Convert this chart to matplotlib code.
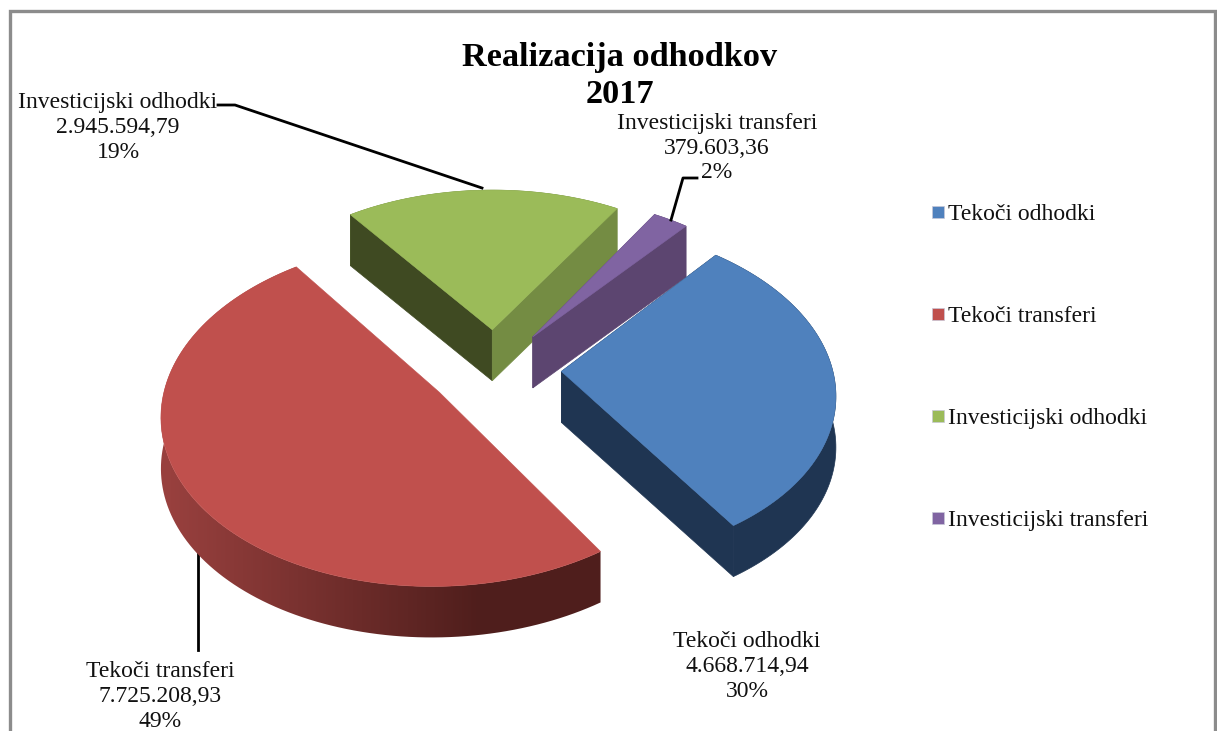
import numpy as np
import matplotlib
matplotlib.use('Agg')
import matplotlib.pyplot as plt

# Data
categories = ['Tekoči odhodki', 'Tekoči transferi', 'Investicijski odhodki', 'Investicijski transferi']
values = [4668714.94, 7725208.93, 2945594.79, 379603.36]
value_labels = ['4.668.714,94', '7.725.208,93', '2.945.594,79', '379.603,36']
title_lines = ['Realizacija odhodkov', '2017']

colors = ['#4F81BD', '#C0504D', '#9BBB59', '#8064A2']
wall_start = ['#1F3552', '#96403D', '#3F4A22', '#5C4570']  # wall of first edge
wall_end = ['#1F3552', '#96403D', '#748C43', '#5C4570']  # wall of last edge

# Projection of the pie plane to pixels
CX, CY = 495, 369
A, B = 271, 165
P = 0.119
DEPTH = 51
START = 40
EXPLODE = 0.245
plt.rcParams['font.family'] = ['Liberation Serif', 'DejaVu Serif']


def project(u, v):
    w = 1 / (1 + P * v)
    return CX + A * u * w, CY - B * v * w


def slice_outline(t0, t1, e):
    mid = np.radians((t0 + t1) / 2)
    ua, va = e * np.sin(mid), e * np.cos(mid)
    th = np.radians(np.linspace(t0, t1, 120))
    return (ua, va), ua + np.sin(th), va + np.cos(th)


fig = plt.figure(figsize=(12.17, 7.31), dpi=100)
ax = fig.add_axes([0, 0, 1, 1])
ax.axis('off')

# chart frame, cut off by the screenshot at the bottom
ax.plot([9.5, 9.5, 1215, 1215], [731, 11, 11, 731], color='#8C8C8C', lw=2.4, solid_joinstyle='miter')

total = sum(values)
angles = np.array(values) / total * 360
t = START
draw_order = [2, 3, 0, 1]
spans = {}
for i, a in enumerate(angles):
    spans[i] = (t, t + a)
    t += a

for n, i in enumerate(draw_order):
    t0, t1 = spans[i]
    (ua, va), us, vs = slice_outline(t0, t1, EXPLODE)
    xa, ya = project(ua, va)
    xs, ys = project(us, vs)
    z = 2 + n

    # outer side of the slice
    wx = np.r_[xs, xs[::-1]]
    wy = np.r_[ys, ys[::-1] + DEPTH]
    if i == 1:
        # the big slice fades from left to right
        cols = np.arange(140, 640)
        grad = np.stack([np.interp(cols, [170, 480], [0x98, 0x4F]),
                         np.interp(cols, [170, 480], [0x40, 0x1E]),
                         np.interp(cols, [170, 480], [0x3E, 0x1C])], axis=-1)[None, :, :] / 255
        im = ax.imshow(grad, extent=(140, 640, 700, 200), aspect='auto', zorder=z)
        clip = plt.Polygon(np.c_[wx, wy], transform=ax.transData, fc='none', ec='none')
        ax.add_patch(clip)
        im.set_clip_path(clip)
    else:
        ax.fill(wx, wy, color=wall_end[i], lw=0.5, zorder=z)

        # straight sides, the big slice hides both of its own
        for xe, ye, c in [(xs[0], ys[0], wall_start[i]), (xs[-1], ys[-1], wall_end[i])]:
            ax.fill([xa, xe, xe, xa], [ya, ye, ye + DEPTH, ya + DEPTH], color=c, lw=0.5, zorder=z + 0.2)

    ax.fill(np.r_[xa, xs], np.r_[ya, ys], color=colors[i], lw=0.4, zorder=z + 0.5)

# leader lines
ax.plot([218, 235, 482], [105, 105, 188], color='black', lw=2, zorder=10)
ax.plot([697, 683, 671], [178, 178, 220], color='black', lw=2, zorder=10)
ax.plot([198, 198], [550, 650], color='black', lw=2, zorder=1)

# data labels
pcts = [round(v / total * 100) for v in values]
label_pos = [(747, 666.5), (160, 696.5), (118, 127.5), (717, 148)]
for i, (x, y) in enumerate(label_pos):
    s = categories[i] + '\n' + value_labels[i] + '\n' + str(pcts[i]) + '%'
    ax.text(x, y, s, ha='center', va='center', fontsize=17, linespacing=1.25, color='#111111', zorder=11)

# title
ax.text(620, 76, '\n'.join(title_lines), ha='center', va='center', fontsize=24.7, fontweight='bold',
        linespacing=1.22, color='black', zorder=11)

# legend
for i, name in enumerate(categories):
    y = 211.5 + i * 102
    ax.add_patch(plt.Rectangle((932, y - 6), 12, 12, facecolor=colors[i], edgecolor='#C8C8D8', lw=0.5))
    ax.text(948, y + 3, name, ha='left', va='center', fontsize=17, color='#111111')

ax.set_xlim(0, 1217)
ax.set_ylim(731, 0)
fig.savefig('out.png', dpi=100)
